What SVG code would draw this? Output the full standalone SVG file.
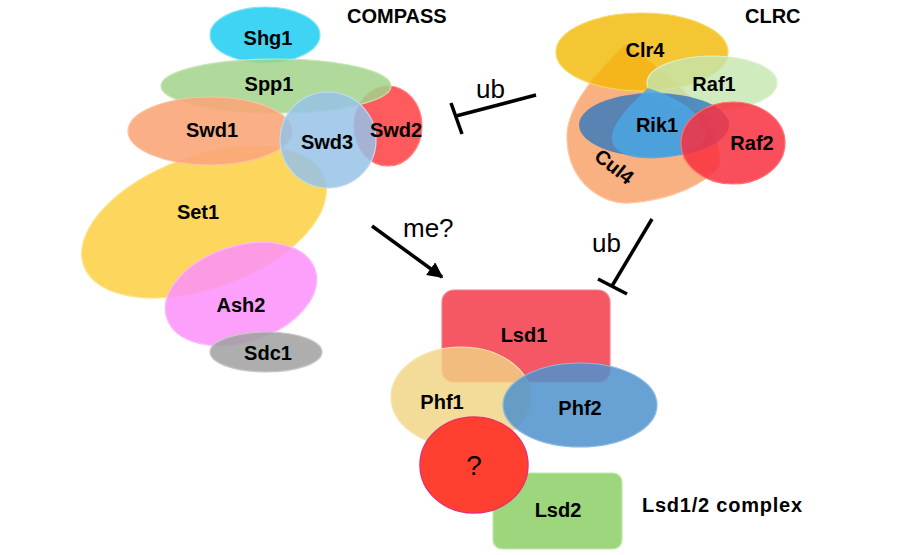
<svg xmlns="http://www.w3.org/2000/svg" width="900" height="555" viewBox="0 0 900 555">
<defs>
<marker id="arr" viewBox="0 0 10 10" refX="9" refY="5" markerWidth="4.5" markerHeight="4.5" orient="auto"><path d="M0,0 L10,5 L0,10 z" fill="#000"/></marker>
</defs>
<style>
.lbl{font-family:"Liberation Sans",Arial,sans-serif;font-weight:bold;font-size:20px;fill:#000;text-anchor:middle}
.hd{font-family:"Liberation Sans",Arial,sans-serif;font-weight:bold;font-size:20px;fill:#000}
.arl{font-family:"Liberation Sans",Arial,sans-serif;font-size:26px;fill:#000}
.ln{stroke:#000;stroke-width:3.5;fill:none}
.sh{stroke-width:1.2}
</style>
<rect width="900" height="555" fill="#fff"/>

<g id="compass">
<g id="swd2"><ellipse cx="388" cy="126" rx="34" ry="40" fill="#ff5a5e" stroke="#ff8080" class="sh"/></g>
<g id="set1"><ellipse cx="204" cy="222" rx="128" ry="66" transform="rotate(-20 204 222)" fill="#fdd34f" fill-opacity="0.92" stroke="#fde48a" class="sh"/><text class="lbl" x="198" y="219">Set1</text></g>
<g id="shg1"><ellipse cx="265" cy="35" rx="55" ry="28" fill="#2fd0f2" fill-opacity="0.92" stroke="#80e4f8" class="sh"/><text class="lbl" x="268" y="45">Shg1</text></g>
<g id="spp1"><ellipse cx="276" cy="86" rx="115" ry="27" fill="#a2d48a" fill-opacity="0.85" stroke="#c4e6b0" class="sh"/><text class="lbl" x="269" y="91">Spp1</text></g>
<g id="swd1"><ellipse cx="210" cy="131" rx="82" ry="34" fill="#f9a679" fill-opacity="0.9" stroke="#fbc4a2" class="sh"/><text class="lbl" x="212" y="137">Swd1</text></g>
<g id="swd3"><circle cx="328" cy="140" r="48" fill="#96c2e8" fill-opacity="0.85" stroke="#c0dcf2" class="sh"/><text class="lbl" x="327" y="149">Swd3</text></g>
<g id="swd2-label"><text class="lbl" x="396" y="137">Swd2</text></g>
<g id="ash2"><ellipse cx="241" cy="294" rx="78" ry="48" transform="rotate(-18 241 294)" fill="#fc8ffc" fill-opacity="0.85" stroke="#fdb8fd" class="sh"/><text class="lbl" x="241" y="312">Ash2</text></g>
<g id="sdc1"><ellipse cx="266" cy="352" rx="56" ry="20" fill="#a0a0a0" fill-opacity="0.85" stroke="#c8c8c8" class="sh"/><text class="lbl" x="268" y="360">Sdc1</text></g>
<text class="hd" x="347" y="23">COMPASS</text>
</g>

<g id="clrc">
<g id="cul4"><path d="M625 45 C600 70 565 105 567 140 C569 185 605 205 630 203 C670 200 705 185 720 165 C720 120 680 80 625 45 Z" fill="#f9a874" fill-opacity="0.9" stroke="#fbc8a0" class="sh"/><text class="lbl" transform="translate(610 172) rotate(38)" x="0" y="0">Cul4</text></g>
<g id="clr4"><ellipse cx="642" cy="52" rx="86" ry="39" fill="#f2b800" fill-opacity="0.8" stroke="#f8d860" class="sh"/><text class="lbl" x="645" y="57">Clr4</text></g>
<g id="raf1"><ellipse cx="712" cy="83" rx="65" ry="27" fill="#c4e6ae" fill-opacity="0.8" stroke="#dcf0cc" class="sh"/><text class="lbl" x="714" y="91">Raf1</text></g>
<g id="rik1"><ellipse cx="654" cy="125" rx="75" ry="32" fill="#2f78be" fill-opacity="0.8"/><path d="M648 88 C630 105 610 125 612 140 C614 155 635 160 660 158 C690 156 710 145 705 128 C700 110 670 95 648 88 Z" fill="#4aa6e2" fill-opacity="0.85"/><text class="lbl" x="657" y="132">Rik1</text></g>
<g id="raf2"><ellipse cx="733" cy="143" rx="52" ry="41" fill="#f8303f" fill-opacity="0.85" stroke="#ff7070" class="sh"/><text class="lbl" x="752" y="150">Raf2</text></g>
<text class="hd" x="745" y="23">CLRC</text>
</g>

<g id="lsd">
<g id="lsd2"><rect x="493" y="473" width="129" height="76" rx="9" fill="#9dd67c" stroke="#c2e8aa" class="sh"/><text class="lbl" x="558" y="517">Lsd2</text></g>
<g id="lsd1"><rect x="442" y="290" width="168" height="92" rx="12" fill="#f4404f" fill-opacity="0.88" stroke="#f88090" class="sh"/><text class="lbl" x="524" y="342">Lsd1</text></g>
<g id="phf1"><ellipse cx="461" cy="397" rx="70" ry="50" fill="#f0d384" fill-opacity="0.82" stroke="#f6e4b0" class="sh"/><text class="lbl" x="442" y="409">Phf1</text></g>
<g id="phf2"><ellipse cx="580" cy="405" rx="77" ry="42" fill="#4e92cc" fill-opacity="0.85" stroke="#8ab8e0" class="sh"/><text class="lbl" x="580" y="415">Phf2</text></g>
<g id="unknown"><ellipse cx="474" cy="465" rx="54" ry="48" fill="#ff4030" stroke="#e8306a" stroke-width="1.5"/><text x="474" y="475" text-anchor="middle" font-family="Liberation Sans,Arial,sans-serif" font-size="28">?</text></g>
<text class="hd" x="642" y="512" font-size="21" textLength="160">Lsd1/2 complex</text>
</g>

<g id="connectors">
<line class="ln" x1="536" y1="95" x2="456" y2="116"/>
<line class="ln" x1="451" y1="103" x2="462" y2="134"/>
<text class="arl" x="476" y="98">ub</text>
<line class="ln" x1="652" y1="219" x2="612" y2="286"/>
<line class="ln" x1="598" y1="279" x2="627" y2="294"/>
<text class="arl" x="592" y="252">ub</text>
<line class="ln" x1="372" y1="226" x2="442" y2="277" marker-end="url(#arr)"/>
<text class="arl" x="403" y="237">me?</text>
</g>
</svg>
